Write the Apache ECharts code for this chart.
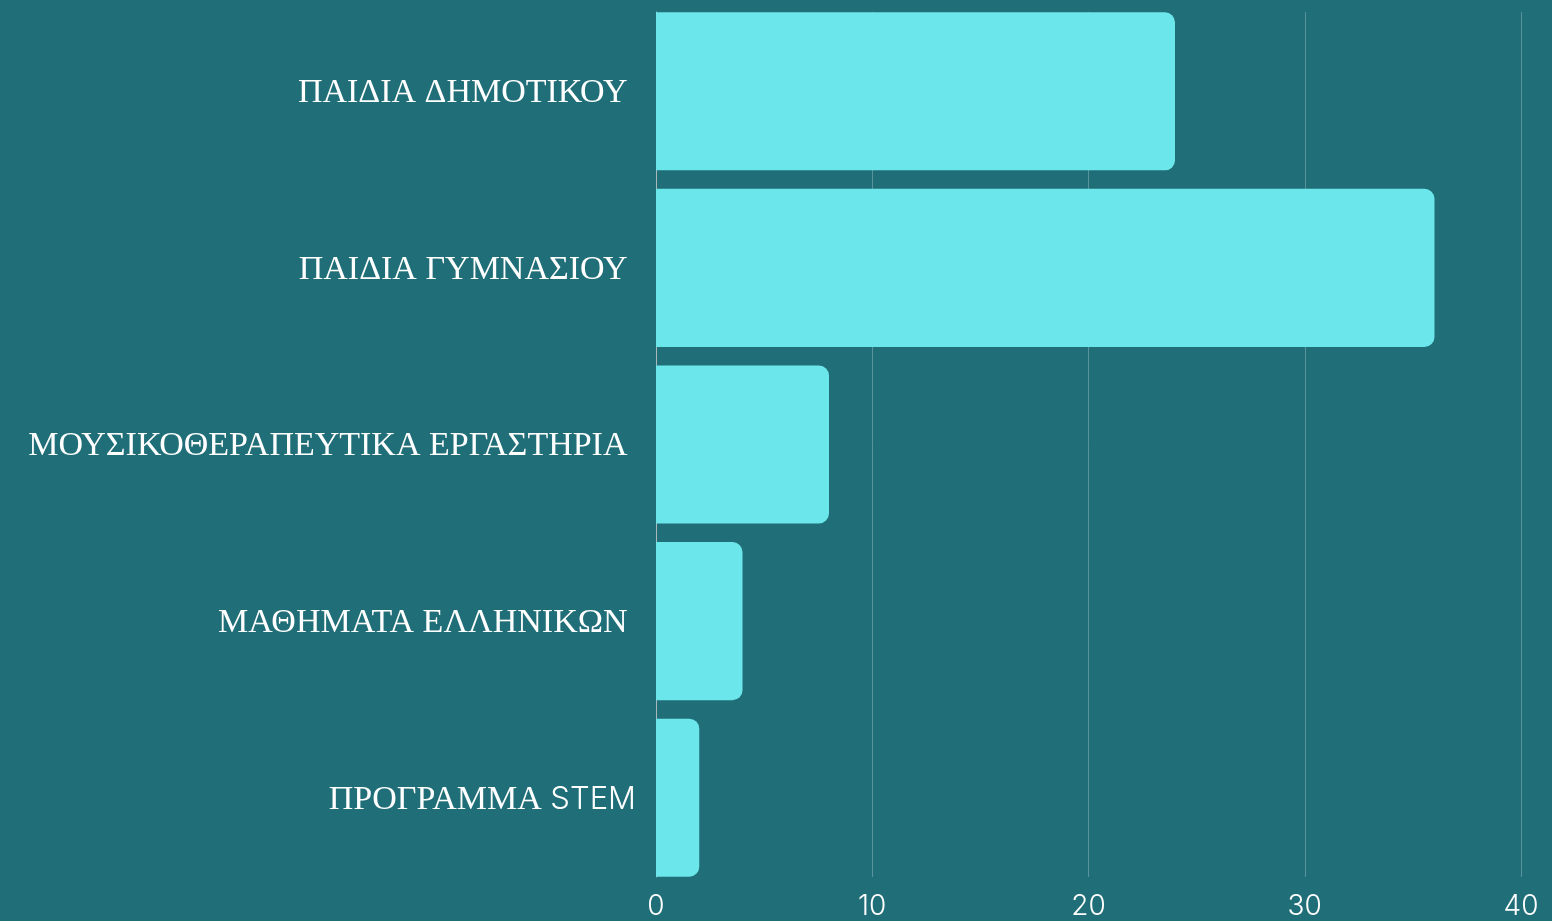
<!DOCTYPE html>
<html>
<head>
    <meta charset="utf-8">
    <title>chart</title>
    <style>
        html, body { margin: 0; padding: 0; background: #206e78; }
        #chart { width: 1552px; height: 921px; }
    </style>
</head>
<body>
<div id="chart"></div>
<script src="https://cdn.jsdelivr.net/npm/echarts@6/dist/echarts.min.js"></script>
<script>
    var categories = ['ΠΑΙΔΙΑ ΔΗΜΟΤΙΚΟΥ ', 'ΠΑΙΔΙΑ ΓΥΜΝΑΣΙΟΥ ', 'ΜΟΥΣΙΚΟΘΕΡΑΠΕΥΤΙΚΑ ΕΡΓΑΣΤΗΡΙΑ ', 'ΜΑΘΗΜΑΤΑ ΕΛΛΗΝΙΚΩΝ ', 'ΠΡΟΓΡΑΜΜΑ STEM'];
    var values = [24, 36, 8, 4, 2];
    var xTicks = [0, 10, 20, 30, 40];

    var myChart = echarts.init(document.getElementById('chart'));

    // greek falls back to serif, latin part in sans like the original
    function yLabel(v) {
        var m = v.match(/^(.*?)([A-Za-z][A-Za-z ]*)$/);
        if (m) return '{g|' + m[1] + '}{l|' + m[2] + '}';
        return '{g|' + v + '}';
    }

    var option = {
        backgroundColor: '#206e78',
        animation: false,
        grid: [
            { left: 656, right: 31, top: 12, height: 865 },   // grid lines + ticks
            { left: 656, right: 31, top: 3, height: 883 }      // bars
        ],
        xAxis: [{
            gridIndex: 0,
            type: 'value',
            min: xTicks[0],
            max: xTicks[xTicks.length - 1],
            interval: 10,
            axisLine: { show: false },
            axisTick: { show: false },
            splitLine: { show: true, lineStyle: { color: 'rgba(255,255,255,0.25)', width: 1 } },
            axisLabel: {
                color: '#ffffff',
                fontSize: 28,
                fontFamily: 'Inter',
                fontWeight: 300,
                margin: 16
            }
        }, {
            gridIndex: 1,
            type: 'value',
            min: 0,
            max: 40,
            show: false
        }],
        yAxis: [{
            gridIndex: 0,
            type: 'category',
            data: categories,
            axisLine: { show: true, lineStyle: { color: '#a9b9bc', width: 1 } },
            axisTick: { show: false },
            axisLabel: { show: false },
            splitLine: { show: false }
        }, {
            gridIndex: 1,
            type: 'category',
            data: categories,
            inverse: true,
            axisLine: { show: false },
            axisTick: { show: false },
            axisLabel: {
                margin: 20,
                formatter: yLabel,
                rich: {
                    g: { color: '#ffffff', fontSize: 34, fontFamily: 'Liberation Serif', padding: [4, 0, 0, 0] },
                    l: { color: '#ffffff', fontSize: 31, fontFamily: 'Inter', fontWeight: 300, padding: [4, 0, 0, 0] }
                }
            }
        }],
        series: [{
            type: 'bar',
            xAxisIndex: 1,
            yAxisIndex: 1,
            data: values,
            barCategoryGap: '10.5%',
            itemStyle: {
                color: '#6be6ea',
                borderRadius: [0, 10, 10, 0]
            }
        }]
    };
    myChart.setOption(option);
</script>
</body>
</html>
